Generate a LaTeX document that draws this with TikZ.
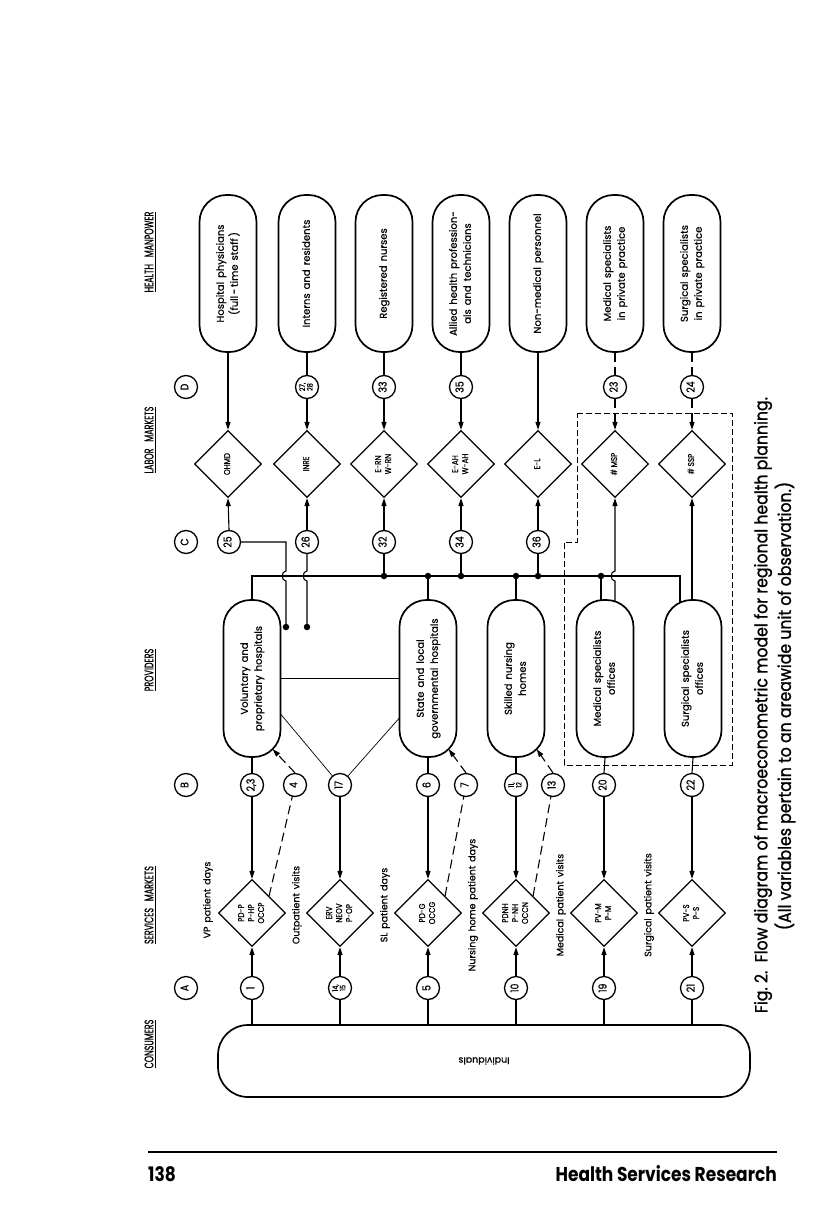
\documentclass[tikz,border=0pt]{standalone}
\usepackage{fontspec}
\usepackage{graphicx}
\setmainfont{Poppins}[WordSpace=1.5, FakeBold=0.6]
\newfontfamily\capfont{Poppins}[FakeStretch=0.9, FakeBold=1.2]
\newfontfamily\hdrfont{Poppins}[FakeStretch=0.64, FakeBold=0.7, WordSpace=1.6]
\newfontfamily\mktfont{Poppins}[FakeStretch=0.85, FakeBold=0.7]
\newfontfamily\footfont{Poppins}[FakeStretch=0.85]
\usetikzlibrary{shapes.geometric,arrows.meta,backgrounds,calc}
\newcommand{\rtx}[1]{\rotatebox{90}{\begin{tabular}{@{}c@{}}#1\end{tabular}}}
\begin{document}
\begin{tikzpicture}[x=1pt,y=-1pt,
  pbox/.style={draw, fill=white, line width=1.7pt, rounded corners=27pt, minimum width=57pt, minimum height=157pt, inner sep=0pt, font=\fontsize{10}{14}\selectfont},
  mkt/.style={draw, fill=white, line width=1.3pt, diamond, minimum width=67pt, minimum height=67pt, inner sep=0pt, font=\mktfont\fontsize{8.5}{10}\selectfont},
  num/.style={draw, fill=white, line width=1.3pt, circle, minimum size=23pt, inner sep=0pt, font=\mktfont\fontsize{11}{10}\selectfont},
  numsm/.style={num, font=\mktfont\fontsize{7.5}{7}\selectfont},
  lbl/.style={rotate=90, inner sep=0pt, font=\fontsize{9.5}{11}\selectfont},
  hdr/.style={rotate=90, inner sep=0pt, font=\hdrfont\fontsize{12.5}{13}\selectfont},
  conn/.style={line width=1.1pt},
  arr/.style={conn, -{Triangle[length=8pt,width=5pt]}},
  dsh/.style={conn, dash pattern=on 9pt off 5pt},
  darr/.style={dsh, -{Triangle[length=8pt,width=5pt]}},
  thinl/.style={line width=0.7pt},
  bnd/.style={line width=0.7pt, dash pattern=on 6pt off 3pt},
  dot/.style={circle, fill, minimum size=6.5pt, inner sep=0pt},
]
\useasboundingbox (0,0) rectangle (816,1217);

% headers
\node[hdr] (hHM) at (150,252) {\underline{HEALTH\ \ MANPOWER}};
\node[hdr] (hLM) at (150,440) {\underline{LABOR\ \ MARKETS}};
\node[hdr] (hPR) at (150,670) {\underline{PROVIDERS}};
\node[hdr] (hSM) at (150,905) {\underline{SERVICES\ \ MARKETS}};
\node[hdr] (hCO) at (150,1044) {\underline{CONSUMERS}};

\node[num] (lD) at (186,387) {\rtx{D}};
\node[num] (lC) at (186,542) {\rtx{C}};
\node[num] (lB) at (186,785) {\rtx{B}};
\node[num] (lA) at (186,988) {\rtx{A}};

% health manpower
\node[pbox] (hp) at (228,273.5) {\rtx{Hospital physicians\\(full\,-\,time staff\,)}};
\node[pbox] (ir) at (307,273.5) {\rtx{Interns and residents}};
\node[pbox] (rn) at (384,273.5) {\rtx{Registered nurses}};
\node[pbox] (ah) at (461,273.5) {\rtx{Allied health profession-\\als and technicians}};
\node[pbox] (nm) at (538,273.5) {\rtx{Non-medical personnel}};
\node[pbox] (mp) at (615,273.5) {\rtx{Medical specialists\\in private practice}};
\node[pbox] (sp) at (692,273.5) {\rtx{Surgical specialists\\in private practice}};

\node[numsm] (c2728) at (307,387) {\rtx{27,\\28}};
\node[num] (c33) at (384,387) {\rtx{33}};
\node[num] (c35) at (461,387) {\rtx{35}};
\node[num] (c23) at (615,387) {\rtx{23}};
\node[num] (c24) at (692,387) {\rtx{24}};

% labor markets
\node[mkt] (ohmd) at (228,464) {\rtx{OHMD}};
\node[mkt] (inre) at (307,464) {\rtx{INRE}};
\node[mkt] (ern) at (384,464) {\rtx{E-RN\\W-RN}};
\node[mkt] (eah) at (461,464) {\rtx{E-AH\\W-AH}};
\node[mkt] (el) at (538,464) {\rtx{E-L}};
\node[mkt] (msp) at (615,464) {\rtx{\#\ MSP}};
\node[mkt] (ssp) at (692,464) {\rtx{\#\ SSP}};

\node[num] (c25) at (229,542) {\rtx{25}};
\node[num] (c26) at (307,542) {\rtx{26}};
\node[num] (c32) at (384,542) {\rtx{32}};
\node[num] (c34) at (461,542) {\rtx{34}};
\node[num] (c36) at (538,542) {\rtx{36}};

% providers
\node[pbox] (vol) at (252,678.5) {\rtx{Voluntary and\\proprietary hospitals}};
\node[pbox] (slg) at (428,678.5) {\rtx{State and local\\governmental hospitals}};
\node[pbox] (snh) at (516,678.5) {\rtx{Skilled nursing\\homes}};
\node[pbox] (mso) at (605,678.5) {\rtx{Medical specialists\\offices}};
\node[pbox] (sso) at (693,678.5) {\rtx{Surgical specialists\\offices}};

\node[num] (c2c3) at (252,785) {\rtx{2,3}};
\node[num] (c4) at (295,785) {\rtx{4}};
\node[num] (c17) at (340,785) {\rtx{17}};
\node[num] (c6) at (428,785) {\rtx{6}};
\node[num] (c7) at (466,785) {\rtx{7}};
\node[numsm] (c1112) at (516,785) {\rtx{11,\\12}};
\node[num] (c13) at (553,785) {\rtx{13}};
\node[num] (c20) at (604,785) {\rtx{20}};
\node[num] (c22) at (692,785) {\rtx{22}};

% services markets
\node[mkt] (pdp) at (252,913) {\rtx{PD-P\\P-HP\\OCCP}};
\node[mkt] (erv) at (340,913) {\rtx{ERV\\NEOV\\P-OP}};
\node[mkt] (pdg) at (428,913) {\rtx{PD-G\\OCCG}};
\node[mkt] (pdnh) at (516,913) {\rtx{PDNH\\P-NH\\OCCN}};
\node[mkt] (pvm) at (604,913) {\rtx{PV-M\\P-M}};
\node[mkt] (pvs) at (692,913) {\rtx{PV-S\\P-S}};

\node[lbl] (tVP) at (208,900) {VP patient days};
\node[lbl] (tOV) at (297,905) {Outpatient visits};
\node[lbl] (tSL) at (385,905) {SL patient days};
\node[lbl] (tNH) at (473,905) {Nursing home patient days};
\node[lbl] (tMV) at (561,905) {Medical patient visits};
\node[lbl] (tSV) at (649,905) {Surgical patient visits};

% consumers
\node[num] (c1) at (252,988) {\rtx{1}};
\node[numsm] (c1415) at (340,988) {\rtx{14,\\15}};
\node[num] (c5) at (428,988) {\rtx{5}};
\node[num] (c10) at (516,988) {\rtx{10}};
\node[num] (c19) at (604,988) {\rtx{19}};
\node[num] (c21) at (692,988) {\rtx{21}};

\node[draw, fill=white, line width=1.7pt, rounded corners=30pt, minimum width=532pt, minimum height=72pt, inner sep=0pt, font=\fontsize{9.5}{10}\selectfont] (indiv) at (484,1061) {\rotatebox{180}{Individuals}};

% junction coordinates
\coordinate (j25) at (286,627);
\coordinate (j26) at (307,627);

\begin{scope}[on background layer]
  % manpower to labor markets
  \draw[arr] (hp.south) -- (ohmd.north);
  \draw[conn] (ir.south) -- (c2728.north);
  \draw[arr] (c2728.south) -- (inre.north);
  \draw[conn] (rn.south) -- (c33.north);
  \draw[arr] (c33.south) -- (ern.north);
  \draw[conn] (ah.south) -- (c35.north);
  \draw[arr] (c35.south) -- (eah.north);
  \draw[arr] (nm.south) -- (el.north);
  \draw[dsh] (mp.south) -- (c23.north);
  \draw[darr] (c23.south) -- (msp.north);
  \draw[dsh] (sp.south) -- (c24.north);
  \draw[darr] (c24.south) -- (ssp.north);
  % labor circles to markets
  \draw[arr] (c25.north) -- (ohmd.south);
  \draw[arr] (c26.north) -- (inre.south);
  \draw[arr] (c32.north) -- (ern.south);
  \draw[arr] (c34.north) -- (eah.south);
  \draw[arr] (c36.north) -- (el.south);
  % 25 and 26 with hops over the bus
  \draw[conn] (c25.east) -- (286,542) -- (286,571) .. controls (281,571) and (281,581) .. (286,581) -- (j25);
  \draw[conn] (c26.south) -- (307,571) .. controls (302,571) and (302,581) .. (307,581) -- (j26);
  \draw[conn] ($(vol.east)+(-5,0)$ |- j25) -- ($(slg.west)+(5,0)$ |- j25);
  % bus
  \draw[conn] (vol.north) -- (252,576) -- (680,576) -- (680,640);
  \draw[conn] (c32.south) -- (384,576);
  \draw[conn] (slg.north) -- (428,576);
  \draw[conn] (c34.south) -- (461,576);
  \draw[conn] (snh.north) -- (516,576);
  \draw[conn] (c36.south) -- (538,576);
  \draw[conn] (601,640) -- (601,576);
  \draw[arr] (615,640) -- (615,581) .. controls (610,581) and (610,571) .. (615,571) -- (msp.south);
  \draw[arr] (692,640) -- (ssp.south);
  % providers to services markets
  \draw[conn] (vol.south) -- (c2c3.north);
  \draw[arr] (c2c3.south) -- (pdp.north);
  \draw[conn] (slg.south) -- (c6.north);
  \draw[arr] (c6.south) -- (pdg.north);
  \draw[conn] (snh.south) -- (c1112.north);
  \draw[arr] (c1112.south) -- (pdnh.north);
  \draw[conn] (mso.south) -- (c20.north);
  \draw[arr] (c20.south) -- (pvm.north);
  \draw[conn] (sso.south) -- (c22.north);
  \draw[arr] (c22.south) -- (pvs.north);
  \draw[arr] (c17.south) -- (erv.north);
  \draw[thinl] (c17.center) -- ($(vol.east)+(-2,34)$);
  \draw[thinl] (c17.center) -- ($(slg.west)+(2,38)$);
  % dashed feedbacks
  \draw[dsh] ($(pdp.east)!0.5!(pdp.north)$) -- (c4.center);
  \draw[darr] (c4.north) -- ($(vol.center)+(20.6,70.6)$);
  \draw[dsh] ($(pdg.east)!0.5!(pdg.north)$) -- (c7.center);
  \draw[darr] (c7.north) -- ($(slg.center)+(20.6,70.6)$);
  \draw[dsh] ($(pdnh.east)!0.5!(pdnh.north)$) -- (c13.center);
  \draw[darr] (c13.north) -- ($(snh.center)+(20.6,70.6)$);
  % consumers
  \draw[arr] (c1.north) -- (pdp.south);
  \draw[arr] (c1415.north) -- (erv.south);
  \draw[arr] (c5.north) -- (pdg.south);
  \draw[arr] (c10.north) -- (pdnh.south);
  \draw[arr] (c19.north) -- (pvm.south);
  \draw[arr] (c21.north) -- (pvs.south);
  \draw[conn] (c1.south) -- (c1 |- indiv.north);
  \draw[conn] (c1415.south) -- (c1415 |- indiv.north);
  \draw[conn] (c5.south) -- (c5 |- indiv.north);
  \draw[conn] (c10.south) -- (c10 |- indiv.north);
  \draw[conn] (c19.south) -- (c19 |- indiv.north);
  \draw[conn] (c21.south) -- (c21 |- indiv.north);
\end{scope}

% junction dots
\node[dot] (d25) at (j25) {};
\node[dot] (d26) at (j26) {};
\node[dot] (d32) at (384,576) {};
\node[dot] (dsl) at (428,576) {};
\node[dot] (d34) at (461,576) {};
\node[dot] (dsn) at (516,576) {};
\node[dot] (d36) at (538,576) {};
\node[dot] (dms) at (601,576) {};

% dashed boundary
\draw[bnd] (577,413) -- (732,413) -- (732,765) -- (564,765) -- (564,542) -- (577,542) -- cycle;

% caption
\node[rotate=90, inner sep=0pt, font=\capfont\fontsize{17.5}{18}\selectfont] (cap1) at (763,705) {Fig.~2.\ \ Flow diagram of macroeconometric model for regional health planning.};
\node[rotate=90, inner sep=0pt, font=\capfont\fontsize{17.5}{18}\selectfont] (cap2) at (785,706) {(All variables pertain to an areawide unit of observation.)};

% footer
\draw[line width=2.4pt] (148,1152) -- (777,1152);
\node[anchor=base west, inner sep=0pt, font=\footfont\bfseries\fontsize{20}{20}\selectfont] (pg) at (148,1181) {138};
\node[anchor=base east, inner sep=0pt, font=\footfont\bfseries\fontsize{20}{20}\selectfont] (jr) at (777,1181) {Health Services Research};
\end{tikzpicture}
\end{document}
